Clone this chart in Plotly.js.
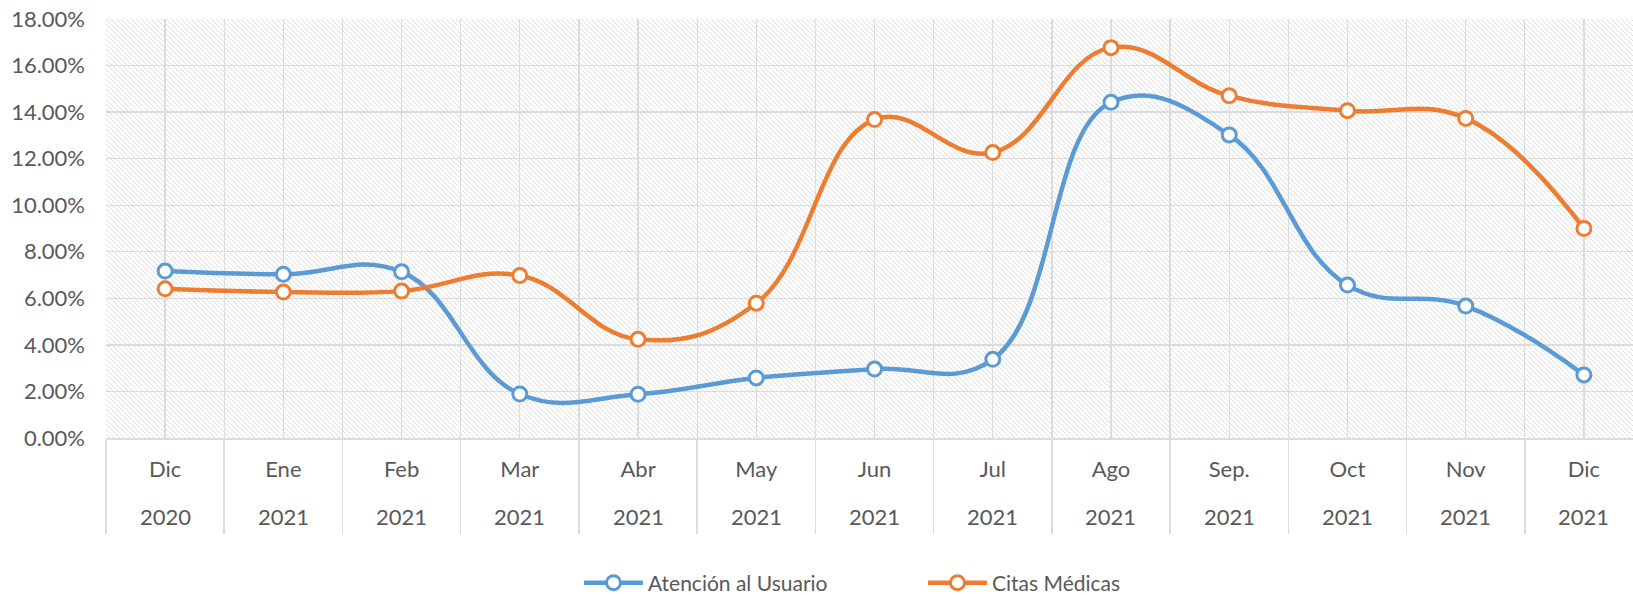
<!DOCTYPE html>
<html>
<head>
<meta charset="utf-8">
<script src="https://cdn.plot.ly/plotly-3.0.1.min.js"></script>
<style>
html,body{margin:0;padding:0;overflow:hidden;background:#fff;}
#chart{width:1633px;height:595px;}
</style>
</head>
<body>
<div id="chart"></div>
<script>
// ---- data ----
const months = ["Dic","Ene","Feb","Mar","Abr","May","Jun","Jul","Ago","Sep.","Oct","Nov","Dic"];
const years  = ["2020","2021","2021","2021","2021","2021","2021","2021","2021","2021","2021","2021","2021"];
const atencionUsuario = [0.0717,0.0703,0.0714,0.0189,0.0188,0.0258,0.0296,0.0338,0.1442,0.1302,0.0657,0.0567,0.0271];
const citasMedicas    = [0.0641,0.0627,0.0631,0.0698,0.0424,0.0579,0.1368,0.1226,0.1677,0.1470,0.1406,0.1373,0.0900];
const seriesNames = ["Atención al Usuario","Citas Médicas"];

const idx = months.map((_, i) => i);
const bounds = months.map((_, i) => i - 0.5).concat([months.length - 0.5]);

const textColor = "#595959";
const gridColor = "#dcdcdc";
const fontFam = "Lato, 'Open Sans', sans-serif";

// hatch background for plot area
const hatchSvg = "<svg xmlns='http://www.w3.org/2000/svg' width='1527' height='419'>" +
  "<defs><pattern id='p' width='5' height='5' patternUnits='userSpaceOnUse'>" +
  "<path d='M-1,-1 L6,6 M-1,4 L1,6 M4,-1 L6,1' stroke='#d6d6d6' stroke-width='0.8'/>" +
  "</pattern></defs><rect width='100%' height='100%' fill='url(#p)'/></svg>";
const hatchSrc = "data:image/svg+xml;charset=utf-8," + encodeURIComponent(hatchSvg);

const mk = (color) => ({symbol: "circle", size: 14, color: "#ffffff", line: {color: color, width: 3}});

const traces = [
  {x: idx, y: atencionUsuario, name: seriesNames[0], type: "scatter", mode: "lines+markers",
   line: {color: "#5B9BD5", width: 4.5, shape: "spline", smoothing: 1.2}, marker: mk("#5B9BD5"), cliponaxis: false},
  {x: idx, y: citasMedicas, name: seriesNames[1], type: "scatter", mode: "lines+markers",
   line: {color: "#ED7D31", width: 4.5, shape: "spline", smoothing: 1.2}, marker: mk("#ED7D31"), cliponaxis: false}
];

const plotH = 419;
const yearAnn = years.map((y, i) => ({
  x: i, xref: "x", y: -78 / plotH, yref: "paper", text: y, showarrow: false,
  xanchor: "center", yanchor: "middle", font: {family: fontFam, size: 22, color: textColor}
}));

const layout = {
  width: 1633, height: 595,
  margin: {l: 106, r: 0, t: 19, b: 157, pad: 0},
  paper_bgcolor: "#ffffff",
  plot_bgcolor: "rgba(0,0,0,0)",
  font: {family: fontFam, size: 22, color: textColor},
  showlegend: true,
  legend: {
    orientation: "h", xref: "paper", x: (579 - 106) / 1527, xanchor: "left",
    yref: "container", y: 12 / 595, yanchor: "middle",
    font: {family: fontFam, size: 21, color: textColor},
    itemwidth: 59,
    entrywidth: 270, entrywidthmode: "pixels", bgcolor: "rgba(0,0,0,0)"
  },
  xaxis: {
    range: [-0.5, 12.415], fixedrange: true, automargin: false,
    tickmode: "array", tickvals: idx, ticktext: months,
    showgrid: true, gridcolor: gridColor, gridwidth: 1.3,
    zeroline: false, showline: true, linecolor: gridColor, linewidth: 1.5,
    ticks: "", ticklabelstandoff: 11,
    tickfont: {family: fontFam, size: 22, color: textColor},
    minor: {tickmode: "array", tickvals: bounds, showgrid: true, gridcolor: gridColor, gridwidth: 1.3,
            ticks: "outside", ticklen: 94, tickcolor: gridColor, tickwidth: 1.5}
  },
  yaxis: {
    range: [0, 0.18], fixedrange: true, automargin: false, dtick: 0.02, tick0: 0, tickformat: ".2%",
    showgrid: true, gridcolor: gridColor, gridwidth: 1.3, zeroline: false, showline: false,
    ticks: "", ticklabelstandoff: 20,
    tickfont: {family: fontFam, size: 22, color: textColor}
  },
  annotations: yearAnn,
  images: [{source: hatchSrc, xref: "paper", yref: "paper", x: 0, y: 1, sizex: 1, sizey: 1,
            xanchor: "left", yanchor: "top", sizing: "stretch", layer: "below"}]
};

Plotly.newPlot("chart", traces, layout, {staticPlot: true, displayModeBar: false});
</script>
</body>
</html>
